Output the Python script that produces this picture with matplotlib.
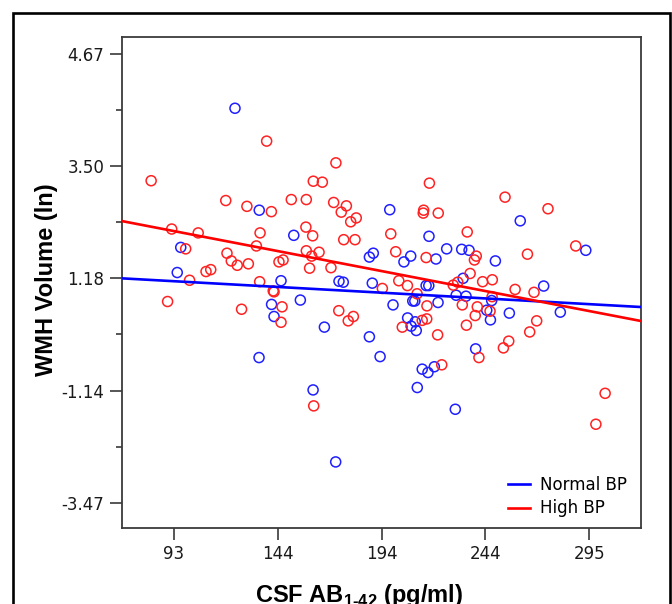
import matplotlib
matplotlib.use("Agg")
import matplotlib.pyplot as plt
from matplotlib.patches import Rectangle
import numpy as np

plt.rcParams['font.family'] = 'DejaVu Sans'
plt.rcParams['mathtext.fontset'] = 'custom'
plt.rcParams['mathtext.rm'] = 'Liberation Sans:bold'
plt.rcParams['mathtext.bf'] = 'Liberation Sans:bold'

# Normal BP (blue)
normal_x = [122.7, 134.5, 151.3, 96.3, 188.1, 190.0, 94.6, 145.1, 173.3, 175.4,
            189.5, 140.5, 154.5, 141.7, 166.2, 188.1, 193.3, 134.4, 160.7, 171.7,
            198.0, 261.5, 217.1, 204.9, 208.2, 220.5, 225.7, 233.0, 236.6, 249.4,
            293.4, 233.7, 215.7, 217.0, 272.9, 199.6, 209.2, 210.2, 221.5, 206.7,
            208.4, 210.4, 210.9, 230.3, 235.1, 247.6, 245.2, 247.0, 256.2, 281.0,
            239.8, 213.8, 216.6, 219.7, 211.4, 229.9]
normal_y = [4.70, 2.59, 2.07, 1.82, 1.62, 1.70, 1.30, 1.13, 1.12, 1.10,
            1.08, 0.64, 0.73, 0.39, 0.17, -0.03, -0.44, -0.46, -1.13, -2.62,
            2.60, 2.37, 2.05, 1.52, 1.64, 1.58, 1.79, 1.78, 1.76, 1.54,
            1.76, 1.18, 1.03, 1.03, 1.02, 0.63, 0.71, 0.71, 0.68, 0.36,
            0.19, 0.28, 0.10, 0.83, 0.81, 0.72, 0.52, 0.32, 0.46, 0.48,
            -0.28, -0.70, -0.77, -0.65, -1.08, -1.53]

# High BP (red)
high_x = [138.1, 171.8, 81.9, 160.8, 165.2, 118.2, 128.5, 140.4, 150.1, 157.4,
          170.7, 176.9, 174.4, 179.0, 181.7, 91.9, 104.8, 134.9, 157.2, 160.5,
          175.6, 181.1, 98.7, 133.1, 118.8, 120.9, 123.8, 129.2, 144.1, 146.1,
          157.4, 160.0, 163.6, 159.0, 169.4, 108.6, 110.9, 100.6, 134.7, 141.7,
          141.3, 89.9, 125.9, 145.6, 145.1, 173.2, 177.8, 180.3, 161.0, 217.3,
          254.1, 275.0, 214.5, 214.3, 221.6, 198.5, 235.7, 200.9, 215.7, 240.1,
          239.2, 265.0, 288.5, 237.1, 202.4, 206.6, 194.4, 211.3, 228.9, 231.1,
          243.2, 247.9, 259.0, 268.2, 216.1, 204.1, 213.8, 216.0, 221.3, 233.3,
          247.8, 240.6, 246.8, 239.6, 235.3, 269.5, 266.1, 255.9, 253.3, 241.4,
          223.3, 302.8, 298.3]
high_y = [4.02, 3.57, 3.20, 3.19, 3.17, 2.79, 2.67, 2.56, 2.81, 2.81,
          2.75, 2.68, 2.55, 2.35, 2.43, 2.20, 2.12, 2.12, 2.24, 2.06,
          1.98, 1.98, 1.79, 1.85, 1.70, 1.54, 1.45, 1.48, 1.52, 1.56,
          1.75, 1.64, 1.72, 1.39, 1.40, 1.32, 1.36, 1.14, 1.11, 0.90,
          0.92, 0.70, 0.54, 0.59, 0.27, 0.51, 0.30, 0.39, -1.46, 3.15,
          2.86, 2.62, 2.59, 2.53, 2.53, 2.10, 2.14, 1.73, 1.61, 1.64,
          1.56, 1.68, 1.85, 1.28, 1.13, 1.03, 0.97, 0.86, 1.04, 1.10,
          1.11, 1.15, 0.95, 0.89, 0.61, 0.17, 0.31, 0.34, 0.01, 0.63,
          0.80, 0.59, 0.50, 0.41, 0.21, 0.30, 0.07, -0.12, -0.26, -0.46,
          -0.61, -1.20, -1.84]

# fitted lines: value at left and right edge of the x range
fit_x = [67.54, 320.3]
normal_fit = [1.18, 0.586]
high_fit = [2.366, 0.296]

xtick_pos = [93, 143.5, 194, 244.5, 295]
xtick_labels = ['93', '144', '194', '244', '295']
ytick_pos = [-3.47, -1.145, 1.18, 3.505, 5.83]
ytick_labels = ['-3.47', '-1.14', '1.18', '3.50', '4.67']

fig = plt.figure(figsize=(6.72, 6.04), dpi=100)
ax = fig.add_axes([0.181, 0.1258, 0.773, 0.8124])

ax.scatter(normal_x, normal_y, s=52, facecolors='none', edgecolors='#1f1fff', linewidths=1.1, zorder=3)
ax.scatter(high_x, high_y, s=52, facecolors='none', edgecolors='#ff2222', linewidths=1.1, zorder=3)
ax.plot(fit_x, normal_fit, color='#0000ff', lw=1.9, label='Normal BP', zorder=4)
ax.plot(fit_x, high_fit, color='#ff0000', lw=1.9, label='High BP', zorder=4)

ax.set_xlim(fit_x)
ax.set_ylim(-3.988, 6.168)
ax.set_xticks(xtick_pos)
ax.set_xticklabels(xtick_labels)
ax.set_yticks(ytick_pos)
ax.set_yticklabels(ytick_labels)
ax.set_yticks([(a + b) / 2 for a, b in zip(ytick_pos[:-1], ytick_pos[1:])], minor=True)

for sp in ax.spines.values():
    sp.set_color('#3a3a3a')
    sp.set_linewidth(1.3)
ax.tick_params(axis='both', which='major', length=8.5, width=1.2, color='#3a3a3a',
               labelsize=12, pad=4, labelcolor='#1a1a1a')
ax.tick_params(axis='y', which='minor', length=4.2, width=1.2, color='#3a3a3a')

ax.set_xlabel(r'CSF AB$_{\text{1-42}}$ (pg/ml)', family='Liberation Sans',
              fontweight='bold', fontsize=17, va='baseline')
ax.xaxis.set_label_coords(0.457, -0.151)
ax.set_ylabel('WMH Volume (ln)', family='Liberation Sans', fontweight='bold', fontsize=17)
ax.yaxis.label.set_va('center')
ax.yaxis.set_label_coords(-0.144, 0.507)

ax.legend(loc='center left', bbox_to_anchor=(0.7445, 0.0642), frameon=False,
          fontsize=12, handlelength=1.32, handletextpad=0.56, labelspacing=0.35,
          borderpad=0, borderaxespad=0)

# outer frame around the whole figure
fig.patches.append(Rectangle((0.0193, -0.05), 0.978, 1.0285, transform=fig.transFigure,
                             fill=False, edgecolor='black', lw=1.9))

fig.savefig('out.png', dpi=100)
